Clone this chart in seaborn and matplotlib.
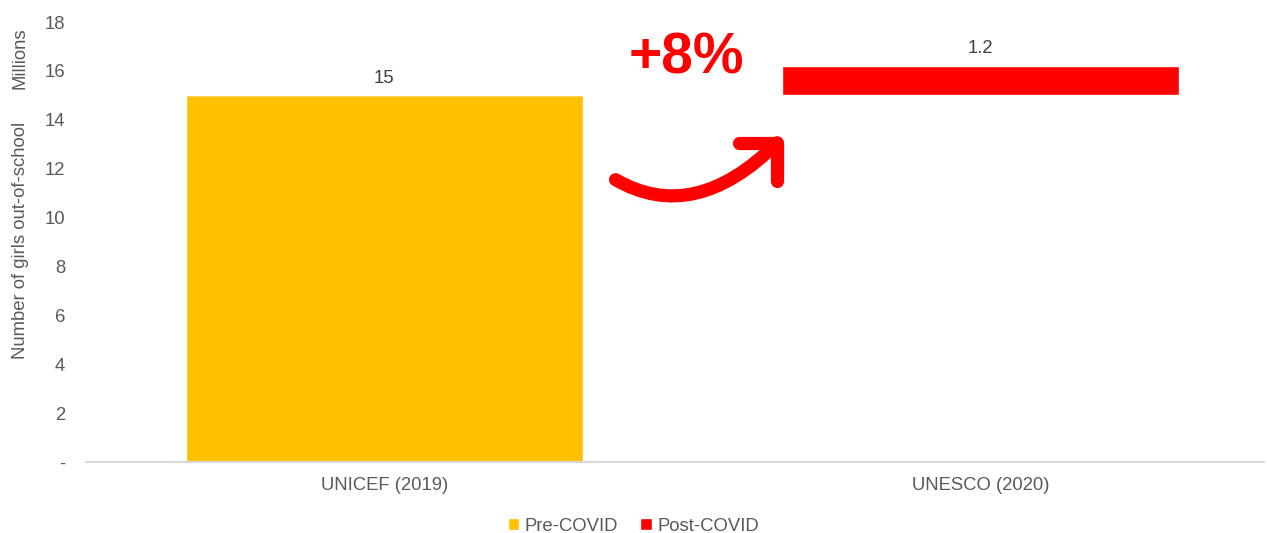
import matplotlib
matplotlib.use("Agg")
import matplotlib.pyplot as plt
import seaborn as sns
from matplotlib.patches import FancyArrowPatch, Patch

categories = ["UNICEF (2019)", "UNESCO (2020)"]
pre_covid = [15, 15]
post_covid = [0, 1.2]
labels_pre = ["15", None]
labels_post = [None, "1.2"]
yticks = [0, 2, 4, 6, 8, 10, 12, 14, 16, 18]
ytick_labels = ["-", "2", "4", "6", "8", "10", "12", "14", "16", "18"]

YELLOW = "#FFC000"
RED = "#FF0000"
GRAY = "#595959"
FS = 13.3

sns.set_theme(style="white")
plt.rcParams["font.family"] = ["Liberation Sans", "DejaVu Sans"]

fig = plt.figure(figsize=(12.67, 5.33), dpi=100)
ax = fig.add_axes([0.0679, 0.1332, 0.930, 0.8255])

w = 0.666
sns.barplot(x=categories, y=pre_covid, color=YELLOW, width=w, saturation=1, ax=ax)
# base of the second bar is invisible (stack offset)
ax.patches[1].set_alpha(0)
sns.barplot(x=categories, y=post_covid, bottom=pre_covid, color=RED, width=w,
            saturation=1, ax=ax)

for i, (p, q) in enumerate(zip(pre_covid, post_covid)):
    if labels_pre[i]:
        ax.text(i, p + 0.35, labels_pre[i], ha="center", va="bottom", fontsize=FS, color="#404040")
    if labels_post[i]:
        ax.text(i, p + q + 0.35, labels_post[i], ha="center", va="bottom", fontsize=FS, color="#404040")

ax.set_xlim(-0.5, 1.476)
ax.set_ylim(0, 18)
ax.set_yticks(yticks)
ax.set_yticklabels(ytick_labels)
ax.tick_params(axis="y", length=0, pad=15, labelsize=FS, labelcolor=GRAY)
ax.tick_params(axis="x", length=0, pad=11, labelsize=FS, labelcolor=GRAY)
for s in ["top", "right", "left"]:
    ax.spines[s].set_visible(False)
ax.spines["bottom"].set_color("#D9D9D9")
ax.spines["bottom"].set_linewidth(1.5)
ax.set_ylabel("")
ax.set_xlabel("")

fig.text(0.016, 0.548, "Number of girls out-of-school", rotation=90, ha="center", va="center",
         fontsize=FS, color=GRAY)
fig.text(0.016, 0.891, "Millions", rotation=90, ha="center", va="center",
         fontsize=FS, color=GRAY)

# annotation: +8%
ax.text(0.507, 16.5, "+8%", ha="center", va="center", fontsize=41, fontweight="bold", color=RED)

arrow = FancyArrowPatch((0.388, 11.55), (0.670, 13.33),
                        connectionstyle="angle3,angleA=-30,angleB=45",
                        arrowstyle="->,head_length=19.5,head_width=19.5",
                        mutation_scale=1, lw=9.5, color=RED,
                        capstyle="round", joinstyle="round",
                        shrinkA=0, shrinkB=0)
ax.add_patch(arrow)

handles = [Patch(facecolor=YELLOW, label="Pre-COVID"), Patch(facecolor=RED, label="Post-COVID")]
fig.legend(handles=handles, loc="center", bbox_to_anchor=(0.5, 0.013), ncol=2, frameon=False,
           fontsize=FS, labelcolor=GRAY, handlelength=0.6, handleheight=0.6,
           handletextpad=0.3, columnspacing=1.2)

fig.savefig("out.png", dpi=100)
